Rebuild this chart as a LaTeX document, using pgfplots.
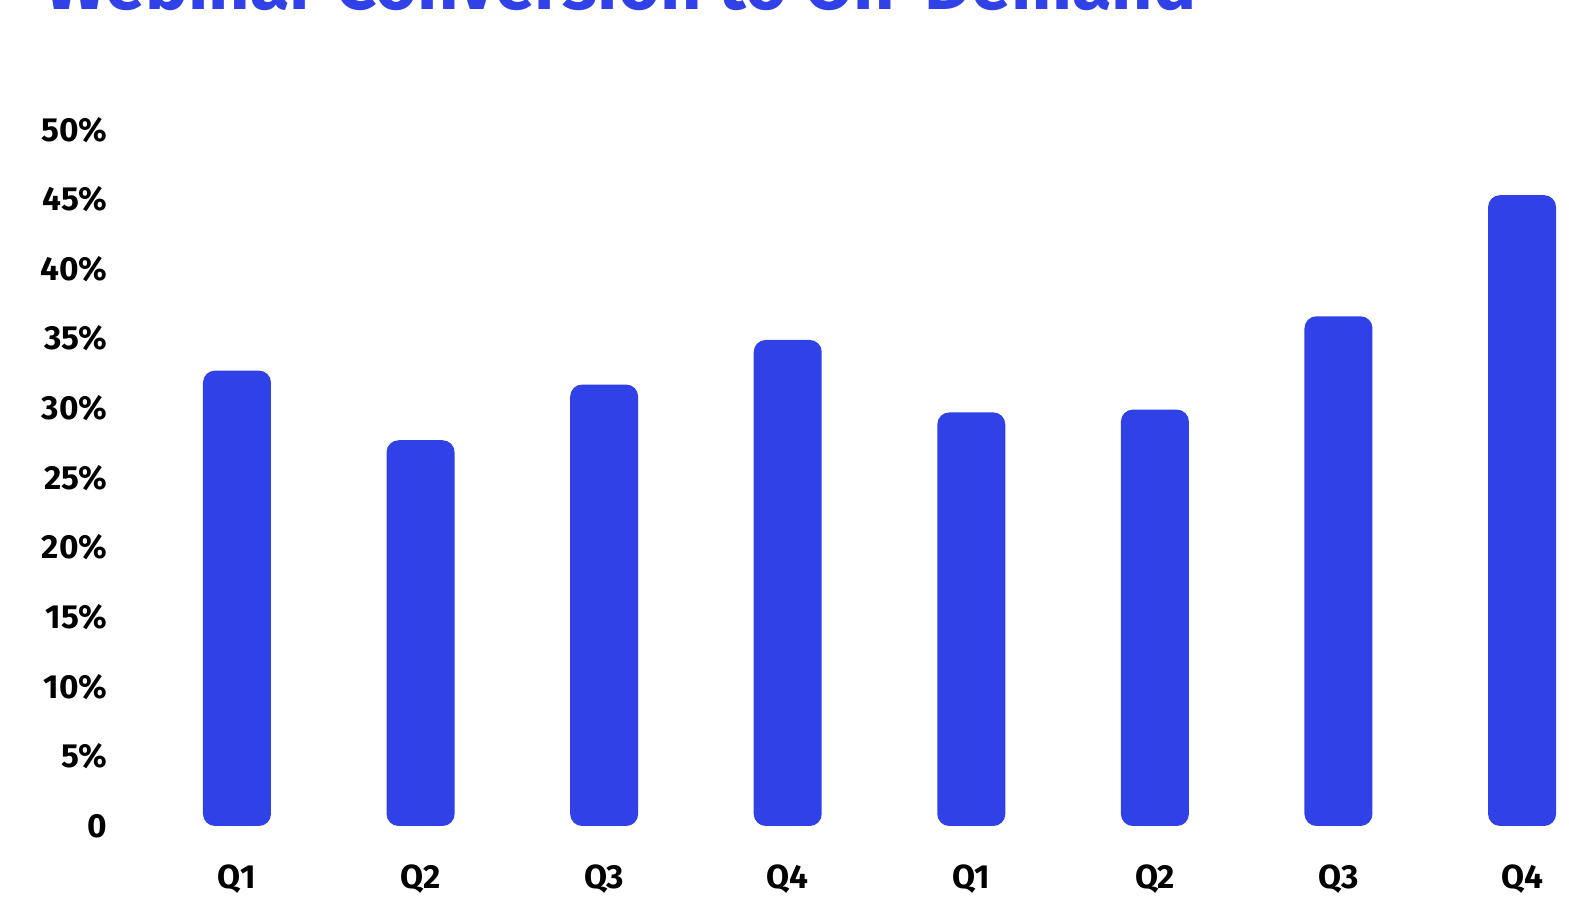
\documentclass[border=0pt]{standalone}
\usepackage{pgfplots}
\pgfplotsset{compat=1.18}
\usepackage{fontspec}
\setmainfont{Fira Sans}
\definecolor{barblue}{RGB}{48,65,232}
\begin{document}
\begin{tikzpicture}
\useasboundingbox (0,0) rectangle (784.5pt,459.5pt);
\node[anchor=base west, inner sep=0pt, text=barblue, font=\fontsize{36}{42}\selectfont\bfseries] at (22.5pt,454.75pt) {Webinar Conversion to On-Demand};
\begin{axis}[
  anchor=south west, at={(72.6pt,46.5pt)},
  scale only axis, width=706.8pt, height=348.15pt,
  xmin=-0.5, xmax=7.2, ymin=0, ymax=50,
  axis line style={draw=none}, major tick length=0pt, tick style={draw=none},
  ytick={0,5,10,15,20,25,30,35,40,45,50},
  yticklabels={0,5\%,10\%,15\%,20\%,25\%,30\%,35\%,40\%,45\%,50\%},
  xtick={0,1,2,3,4,5,6,7},
  xticklabels={Q1,Q2,Q3,Q4,Q1,Q2,Q3,Q4},
  ticklabel style={font=\fontsize{16.7}{20}\selectfont\bfseries},
  yticklabel style={anchor=east, inner sep=0pt, xshift=-18.75pt},
  xticklabel style={anchor=base, inner sep=0pt, yshift=-31.5pt},
  clip=false,
  ybar, bar width=34pt,
]
\addplot[fill=barblue, draw=none, rounded corners=6pt] coordinates {
  (0,32.7) (1,27.7) (2,31.7) (3,34.9) (4,29.7) (5,29.9) (6,36.6) (7,45.3)
};
\end{axis}
\end{tikzpicture}
\end{document}
